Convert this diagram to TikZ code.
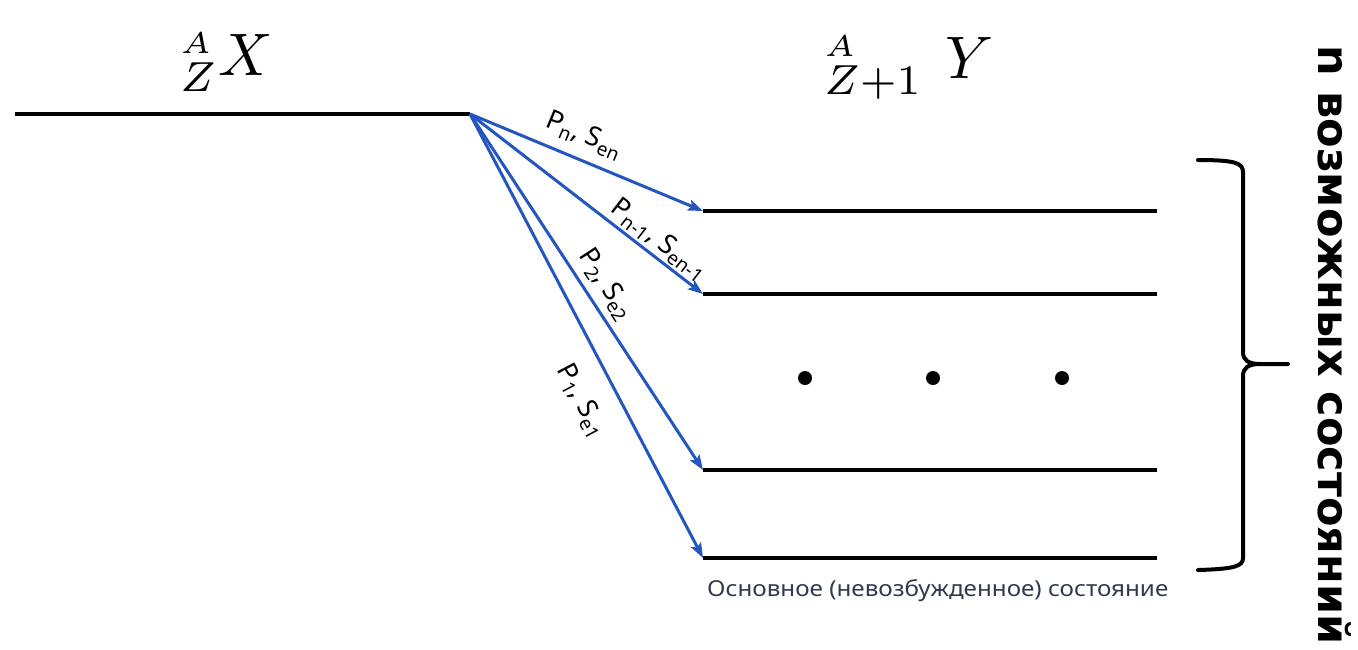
\documentclass[tikz,border=0pt]{standalone}
\usepackage{fontspec}
\setmainfont{Noto Sans}
\newfontfamily\heavyfont{DejaVu Sans}
\usetikzlibrary{arrows.meta}
\definecolor{arrowblue}{HTML}{2456C0}
\definecolor{captiongray}{HTML}{2F3A4E}
\newcommand\lowsub[1]{\raisebox{-5pt}{\fontsize{19}{21}\selectfont #1}}
\begin{document}
\begin{tikzpicture}[x=1pt,y=-1pt,
  level/.style={line width=4pt},
  trans/.style={arrowblue, line width=3pt, -{Stealth[length=15pt,width=11pt,inset=3pt]}},
  lab/.style={sloped, anchor=base, text=black, font=\fontsize{27}{30}\selectfont, inner sep=0pt},
  dotnode/.style={circle, fill=black, minimum size=14pt, inner sep=0pt},
  title/.style={anchor=base west, inner sep=0pt, font=\fontsize{10}{12}\selectfont},
  brace/.style={line width=4pt, line cap=round, line join=round}]
\useasboundingbox (0,0) rectangle (1358,649);
% initial level
\coordinate (Xw) at (15,114);
\coordinate (src) at (470,114);
\draw[level] (Xw) -- (src);
% final levels
\foreach \n/\y in {1/211,2/294,3/470,4/558}{
  \coordinate (L\n w) at (703,\y);
  \coordinate (L\n e) at (1157,\y);
  \draw[level] (L\n w) -- (L\n e);
}
% dots
\node[dotnode] (d1) at (805,378) {};
\node[dotnode] (d2) at (933,378) {};
\node[dotnode] (d3) at (1062,378) {};
% transitions
\draw[trans] (src) -- (L1w) node[lab, pos=0.45, yshift=17pt] {P\lowsub{n}, S\lowsub{en}};
\draw[trans] (src) -- (L2w) node[lab, pos=0.77, yshift=9pt] {P\lowsub{n-1}, S\lowsub{en-1}};
\draw[trans] (src) -- (L3w) node[lab, pos=0.51, yshift=13pt] {P\lowsub{2}, S\lowsub{e2}};
\draw[trans] (src) -- (L4w) node[lab, pos=0.61, yshift=-42pt] {P\lowsub{1}, S\lowsub{e1}};
% titles
\node[title] (tX) at (180,75) {\scalebox{6}{${}^{\scriptscriptstyle A}_{Z}X$}};
\node[title] (tY) at (824,78) {\scalebox{6}{${}^{\scriptscriptstyle A}_{Z+1}\hspace{3.7pt}Y$}};
% caption
\node[anchor=base west, inner sep=0pt, text=captiongray, xscale=1.1, font=\fontsize{22}{26}\selectfont] (cap) at (707,596) {Основное (невозбужденное) состояние};
% brace
\draw[brace] (1198,160) .. controls (1235,160) and (1243,163) .. (1243,172) -- (1243,352)
  .. controls (1243,360) and (1248,364) .. (1260,364) -- (1288,364);
\draw[brace] (1260,364) .. controls (1248,364) and (1243,368) .. (1243,376) -- (1243,558)
  .. controls (1243,566) and (1235,569) .. (1198,570);
\node[rotate=-90, inner sep=0pt, font=\heavyfont\fontsize{43}{43}\selectfont\bfseries] (ntext) at (1335,345) {n возможных состояний};
\end{tikzpicture}
\end{document}
